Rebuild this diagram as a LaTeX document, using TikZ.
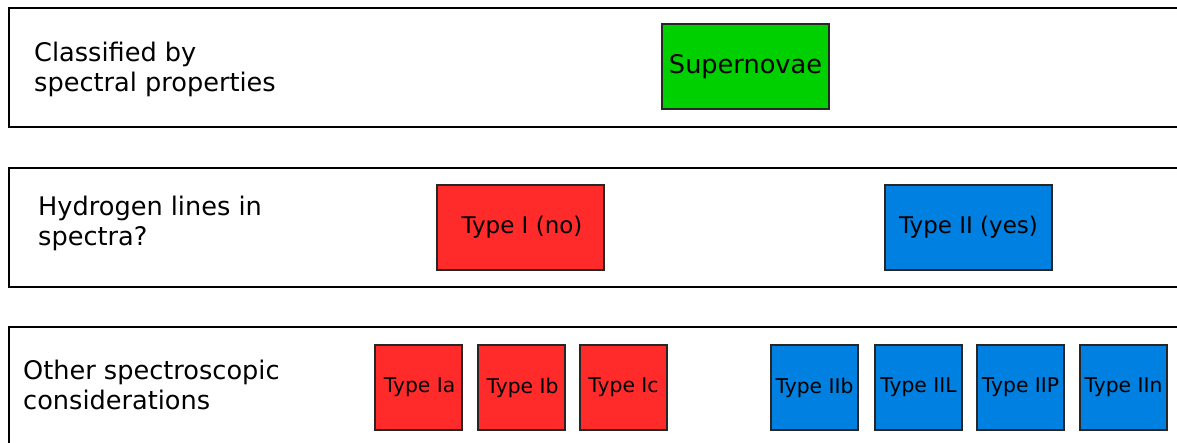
\documentclass[tikz,border=0pt]{standalone}
\usepackage{fontspec}
\setmainfont{DejaVu Sans}
\definecolor{sngreen}{RGB}{0,208,0}
\definecolor{snred}{RGB}{255,43,43}
\definecolor{snblue}{RGB}{0,128,224}
\begin{document}
\begin{tikzpicture}[x=1pt,y=-1pt,
  band/.style={draw=black,line width=2pt},
  lbl/.style={anchor=base west,inner sep=0pt,font=\fontsize{25.6}{30}\selectfont},
  bigbox/.style={draw=black!85,line width=1.2pt,minimum width=167pt,minimum height=85pt,inner sep=0pt},
  smallbox/.style={draw=black!85,line width=1.2pt,minimum width=87pt,minimum height=85pt,inner sep=0pt,font=\fontsize{20.3}{24}\selectfont},
  mid/.style={font=\fontsize{23}{27}\selectfont}]
\useasboundingbox (0,0) rectangle (1177,443);
\fill[white] (0,0) rectangle (1177,443);
% bands
\draw[band] (1190,8) -- (9,8) -- (9,127) -- (1190,127);
\draw[band] (1190,168) -- (9,168) -- (9,287) -- (1190,287);
\draw[band] (1190,327) -- (9,327) -- (9,450);
% labels
\node[lbl] (l1a) at (34,62) {Classified by};
\node[lbl] (l1b) at (34,92) {spectral properties};
\node[lbl] (l2a) at (38,216) {Hydrogen lines in};
\node[lbl] (l2b) at (38,246) {spectra?};
\node[lbl] (l3a) at (23,379) {Other spectroscopic};
\node[lbl] (l3b) at (23,409) {considerations};
% boxes
\node[bigbox,fill=sngreen,font=\fontsize{25.6}{30}\selectfont] (sn) at (745.5,66.5) {\raisebox{1.5pt}{Supernovae}};
\node[bigbox,fill=snred,mid] (t1) at (520.5,227.5) {\hspace*{3pt}Type I (no)};
\node[bigbox,fill=snblue,mid] (t2) at (968.5,227.5) {Type II (yes)};
\node[smallbox,fill=snred] (ia) at (418.5,387.5) {\hspace*{2pt}Type Ia};
\node[smallbox,fill=snred] (ib) at (521.5,387.5) {\hspace*{2pt}Type Ib};
\node[smallbox,fill=snred] (ic) at (623.5,387.5) {Type Ic};
\node[smallbox,fill=snblue] (iib) at (814.5,387.5) {Type IIb};
\node[smallbox,fill=snblue] (iil) at (918.5,387.5) {Type IIL};
\node[smallbox,fill=snblue] (iip) at (1020.5,387.5) {Type IIP};
\node[smallbox,fill=snblue] (iin) at (1123.5,387.5) {Type IIn};
\end{tikzpicture}
\end{document}
